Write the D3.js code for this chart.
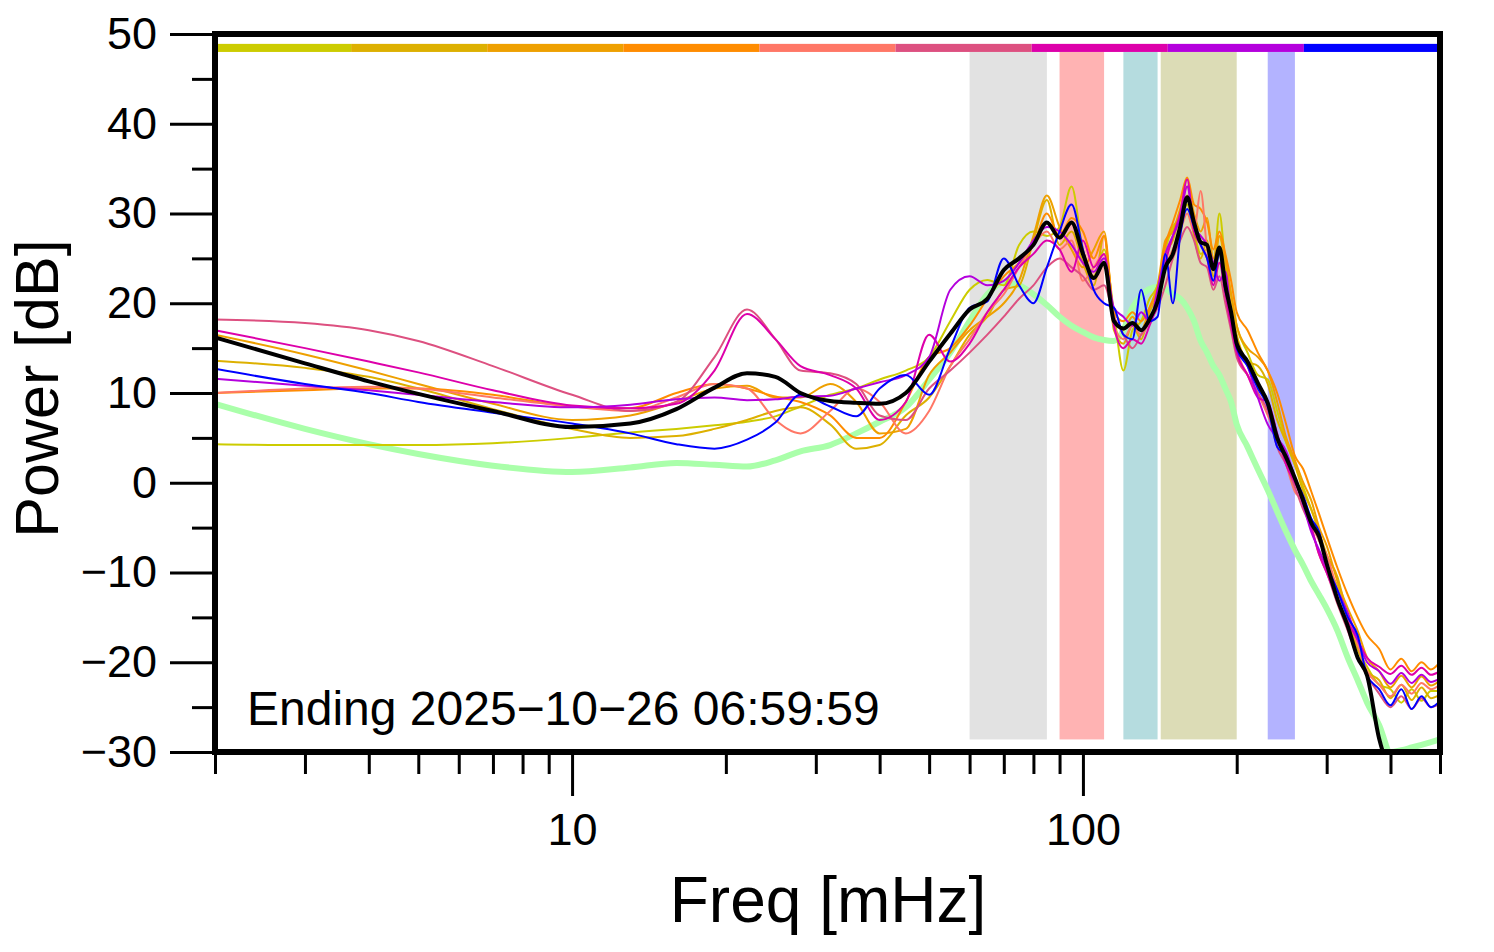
<!DOCTYPE html>
<html>
<head>
<meta charset="utf-8">
<script src="https://cdn.jsdelivr.net/npm/d3@7"></script>
<style>
  body { margin: 0; background: #fff; }
  text { font-family: "Liberation Sans", Arial, sans-serif; fill: #000; }
</style>
</head>
<body>
<div id="vis"></div>
<script>
// frequencies (mHz) shared by every spectrum
var freqs = [2, 3, 4, 5, 7, 10, 13, 16, 19, 22, 25, 28, 32, 36, 40, 45, 50, 55, 60, 65, 70, 75, 80, 85, 90, 95,
  100, 105, 110, 115, 120, 125, 130, 135, 140, 145, 150, 155, 160, 165, 170, 175, 180, 185, 190, 195, 200,
  210, 220, 230, 240, 250, 260, 270, 280, 290, 300, 315, 330, 345, 360, 380, 400, 420, 440, 460, 480, 500];

// power in dB, one array per daily spectrum
var yellowPower = [4.3, 4.2, 4.2, 4.2, 4.4, 5.0, 5.6, 6.0, 6.4, 6.8, 7.4, 8.5, 9.8, 10.5, 11.5, 12.5, 14.0, 18.0, 21.5, 22.6, 22.0, 26.5, 28.0, 27.5, 28.5, 33.0,
  26.0, 23.0, 26.0, 19.0, 12.5, 17.0, 18.0, 20.5, 22.0, 26.0, 28.5, 29.5, 31.0, 28.0, 25.5, 26.0, 24.0, 30.0, 24.5, 21.0, 17.5,
  14.5, 12.0, 11.5, 8.0, 4.5, 2.0, -0.5, -3.0, -5.5, -9.0, -11.5, -15.0, -18.5, -20.5, -22.5, -23.0, -24.5, -23.0, -24.3, -23.2, -23.2];
var goldPower = [13.6, 12.8, 11.8, 10.5, 8.2, 6.0, 5.0, 5.2, 6.0, 7.0, 8.0, 8.4, 6.5, 3.8, 4.2, 7.5, 9.5, 13.0, 16.5, 18.5, 21.5, 22.0, 27.0, 31.5, 26.5, 28.0,
  24.5, 22.0, 27.5, 17.0, 15.5, 17.5, 16.0, 19.0, 21.0, 25.5, 27.0, 30.0, 32.0, 27.5, 25.0, 27.0, 23.0, 27.5, 24.0, 19.5, 16.5,
  13.5, 13.0, 11.0, 7.0, 4.5, 2.0, -1.0, -3.0, -5.5, -8.0, -10.5, -15.0, -18.5, -21.0, -22.0, -24.0, -22.5, -24.2, -22.8, -24.0, -23.6];
var orangePower = [16.5, 14.3, 12.5, 11.0, 8.8, 7.0, 7.5, 9.0, 10.5, 10.8, 9.5, 9.5, 11.0, 9.0, 5.5, 6.0, 12.0, 14.5, 17.0, 18.5, 20.0, 22.5, 27.5, 32.0, 28.5, 26.0,
  24.0, 26.0, 28.0, 18.5, 17.0, 18.5, 17.0, 19.5, 22.0, 27.0, 28.0, 30.5, 33.0, 30.0, 28.0, 29.5, 25.0, 27.5, 25.0, 21.0, 17.5,
  15.0, 14.0, 12.5, 9.0, 5.0, 2.5, 0.0, -2.0, -5.0, -7.0, -11.0, -14.0, -16.5, -19.5, -21.0, -22.8, -21.5, -22.8, -21.6, -22.6, -22.0];
var darkOrangePower = [10.0, 10.3, 10.5, 10.5, 9.8, 8.5, 8.3, 10.0, 11.0, 10.5, 9.6, 9.0, 7.5, 5.0, 5.0, 9.0, 14.0, 15.0, 17.5, 20.5, 23.0, 24.5, 26.5, 30.0, 27.5, 29.5,
  28.0, 25.0, 27.5, 19.0, 18.0, 19.0, 18.0, 19.5, 21.5, 26.5, 29.0, 31.5, 34.0, 31.0, 30.5, 29.0, 26.0, 28.0, 25.5, 22.5, 19.0,
  17.0, 14.5, 12.5, 10.0, 6.5, 3.0, 1.5, -1.0, -3.5, -6.0, -9.5, -12.5, -15.0, -17.0, -18.5, -20.8, -19.6, -21.0, -20.0, -20.8, -20.0];
var salmonPower = [10.0, 10.5, 10.7, 10.5, 9.5, 8.5, 8.0, 9.5, 11.0, 10.5, 7.0, 5.5, 8.0, 10.5, 9.0, 5.5, 8.0, 13.0, 16.0, 19.0, 21.0, 24.0, 26.5, 28.0, 26.0, 27.0,
  22.5, 24.0, 25.5, 17.5, 16.0, 17.5, 16.5, 18.0, 20.0, 24.0, 26.0, 28.0, 30.0, 28.0, 32.5, 26.0, 22.5, 24.5, 22.0, 18.5, 15.0,
  12.0, 10.0, 7.5, 5.0, 2.0, -1.0, -2.0, -4.5, -6.5, -8.0, -12.0, -15.0, -18.0, -21.0, -22.5, -23.8, -22.5, -23.5, -22.3, -23.0, -22.5];
var rosePower = [18.2, 17.8, 17.0, 15.8, 13.0, 9.8, 8.0, 9.0, 14.0, 19.3, 16.0, 12.5, 12.2, 11.0, 7.5, 7.0, 10.5, 12.5, 14.5, 16.5, 18.5, 20.5, 22.0, 24.0, 25.0, 24.0,
  23.0, 21.5, 22.0, 18.5, 16.5, 15.0, 16.5, 18.0, 19.5, 22.0, 25.0, 27.0, 28.5, 27.0, 24.5, 24.0, 21.5, 23.0, 20.0, 17.0, 14.0,
  12.0, 10.0, 8.0, 4.0, 2.0, -0.5, -3.0, -5.0, -8.0, -10.0, -13.5, -16.5, -19.5, -21.5, -23.5, -25.0, -23.8, -25.2, -24.0, -25.0, -24.6];
var magentaPower = [17.0, 15.0, 13.5, 12.3, 10.3, 8.6, 8.3, 8.8, 12.5, 18.8, 16.0, 13.0, 12.0, 10.5, 7.0, 9.0, 16.5, 13.5, 15.5, 19.0, 21.5, 24.0, 25.5, 27.0, 26.0, 23.5,
  27.0, 24.0, 25.5, 17.5, 15.0, 16.0, 15.5, 17.5, 20.0, 24.5, 27.5, 30.0, 33.8, 28.0, 26.5, 25.0, 22.0, 24.5, 21.0, 17.5, 14.5,
  12.0, 9.5, 9.0, 5.5, 2.0, 0.0, -2.0, -5.0, -8.0, -10.0, -13.0, -15.5, -17.5, -19.5, -20.5, -21.3, -20.4, -21.4, -20.6, -21.4, -21.0];
var purplePower = [11.6, 10.8, 10.3, 9.8, 9.0, 8.4, 8.7, 9.3, 9.5, 9.2, 9.3, 9.6, 9.7, 10.5, 11.2, 12.0, 14.0, 21.5, 23.0, 22.0, 22.5, 24.5, 27.0, 28.5, 28.0, 26.5,
  24.5, 23.5, 25.0, 19.5, 18.5, 17.5, 19.0, 18.0, 21.5, 25.5, 27.5, 29.5, 33.0, 28.5, 27.5, 26.5, 24.5, 22.5, 23.5, 18.5, 15.5,
  13.0, 9.5, 6.5, 5.0, 3.5, 0.5, -2.5, -5.5, -7.5, -9.5, -12.0, -14.5, -17.5, -20.0, -21.0, -22.4, -21.2, -22.3, -21.4, -22.2, -21.8];
var bluePower = [12.7, 11.0, 10.0, 9.0, 7.8, 6.6, 5.5, 4.3, 3.8, 4.8, 6.7, 9.8, 8.5, 7.4, 10.5, 12.0, 9.8, 15.0, 19.5, 20.2, 25.0, 22.0, 20.0, 24.0, 28.0, 31.0,
  26.0, 21.5, 20.0, 19.5, 16.5, 16.0, 21.5, 18.0, 18.5, 25.5, 20.0, 27.5, 30.5, 28.5, 26.5, 25.0, 22.5, 25.5, 21.5, 19.0, 15.0,
  13.0, 10.5, 8.5, 4.0, 3.0, 0.5, -1.5, -4.0, -5.5, -9.0, -12.0, -15.0, -17.0, -21.5, -23.0, -24.8, -23.0, -25.2, -23.8, -25.0, -24.3];
var meanPower = [16.2, 13.3, 11.3, 9.9, 8.0, 6.2, 6.6, 8.2, 10.6, 12.2, 11.8, 10.0, 9.1, 8.9, 8.8, 10.0, 13.5, 16.6, 19.3, 20.5, 23.7, 25.0, 26.5, 29.0, 27.3, 29.0,
  25.5, 22.8, 24.5, 18.0, 17.2, 17.8, 17.0, 18.2, 20.2, 24.0, 25.5, 28.5, 31.8, 29.0, 26.8, 26.5, 23.8, 26.2, 22.0, 19.0, 15.5,
  13.5, 11.1, 8.9, 5.0, 2.8, 0.5, -2.0, -4.5, -6.0, -9.0, -13.0, -16.0, -19.5, -21.5, -28.5, -32.0, -33.0, -33.0, -33.0, -33.0, -33.0];
var noisePower = [8.8, 6.0, 4.3, 3.2, 1.9, 1.2, 1.7, 2.2, 2.0, 1.8, 2.5, 3.5, 4.2, 5.5, 6.8, 8.4, 11.5, 14.5, 18.0, 21.0, 22.3, 22.0, 21.0, 19.8, 18.5, 17.5,
  16.8, 16.2, 15.9, 15.8, 17.0, 19.5, 20.8, 21.6, 21.8, 21.6, 21.0, 20.5, 19.5, 18.0, 15.8, 14.5, 13.0, 12.0, 10.5, 9.0, 6.5,
  4.0, 1.5, -0.8, -3.2, -5.5, -7.5, -9.2, -11.0, -12.5, -14.0, -16.5, -19.5, -22.0, -24.5, -27.0, -30.0, -29.8, -29.5, -29.2, -28.9, -28.6];

var dayColors = ["#cccc00", "#ddb000", "#eea000", "#ff8c00", "#ff7766", "#dd5080", "#dd00aa", "#b400dd", "#0000ff"];

// shaded frequency bands (mHz)
var bandStarts = [60, 90, 120, 142, 230];
var bandEnds = [85, 110, 140, 200, 260];
var bandColors = ["#e2e2e2", "#ffb3b3", "#b5dcdf", "#dcdcb6", "#b3b3ff"];

var yMajorTicks = [-30, -20, -10, 0, 10, 20, 30, 40, 50];
var yMinorTicks = [-25, -15, -5, 5, 15, 25, 35, 45];
var xMajorTicks = [10, 100];
var xMinorTicks = [2, 3, 4, 5, 6, 7, 8, 9, 20, 30, 40, 50, 60, 70, 80, 90, 200, 300, 400, 500];

var stampText = "Ending 2025\u221210\u221226 06:59:59";

var width = 1494, height = 952;
var margin = { left: 215, right: 54, top: 34, bottom: 200 };
var drawWidth = width - margin.left - margin.right;
var drawHeight = height - margin.top - margin.bottom;

var svg = d3.select("#vis").append("svg")
  .attr("width", width)
  .attr("height", height);

var g = svg.append("g")
  .attr("transform", "translate(" + margin.left + "," + margin.top + ")");

var xScale = d3.scaleLog().domain([2, 500]).range([0, drawWidth]);
var yScale = d3.scaleLinear().domain([-30, 50]).range([drawHeight, 0]);

svg.append("defs").append("clipPath").attr("id", "plotClip")
  .append("rect")
  .attr("x", 0).attr("y", 0)
  .attr("width", drawWidth).attr("height", drawHeight);

// bands
var bands = bandStarts.map(function(d, i) { return { lo: d, hi: bandEnds[i], color: bandColors[i] }; });
g.selectAll("rect.band").data(bands).enter().append("rect")
  .attr("class", "band")
  .attr("x", function(d) { return xScale(d.lo); })
  .attr("width", function(d) { return xScale(d.hi) - xScale(d.lo); })
  .attr("y", yScale(48))
  .attr("height", yScale(-28.6) - yScale(48))
  .attr("fill", function(d) { return d.color; });

// colour key strip along the top
var segW = drawWidth / dayColors.length;
g.selectAll("rect.key").data(dayColors).enter().append("rect")
  .attr("class", "key")
  .attr("x", function(d, i) { return i * segW; })
  .attr("width", segW)
  .attr("y", yScale(48.9))
  .attr("height", yScale(48) - yScale(48.9))
  .attr("fill", function(d) { return d; });

var lineOf = function(vals) {
  return d3.line()
    .x(function(d, i) { return xScale(freqs[i]); })
    .y(function(d) { return yScale(d); })
    .curve(d3.curveMonotoneX)(vals);
};

var lines = g.append("g").attr("clip-path", "url(#plotClip)");

// noise floor
lines.append("path")
  .attr("d", lineOf(noisePower))
  .attr("fill", "none")
  .attr("stroke", "#aaffaa")
  .attr("stroke-width", 6);

var daySeries = [yellowPower, goldPower, orangePower, darkOrangePower, salmonPower, rosePower, magentaPower, purplePower, bluePower];
lines.selectAll("path.day").data(daySeries).enter().append("path")
  .attr("class", "day")
  .attr("d", function(d) { return lineOf(d); })
  .attr("fill", "none")
  .attr("stroke", function(d, i) { return dayColors[i]; })
  .attr("stroke-width", 2);

lines.append("path")
  .attr("d", lineOf(meanPower))
  .attr("fill", "none")
  .attr("stroke", "#000")
  .attr("stroke-width", 4);

// frame
g.append("rect")
  .attr("x", 0).attr("y", 0)
  .attr("width", drawWidth).attr("height", drawHeight)
  .attr("fill", "none")
  .attr("stroke", "#000")
  .attr("stroke-width", 6);

// axes
var styleAxis = function(sel, fontSize) {
  sel.select(".domain").remove();
  sel.selectAll(".tick line").attr("stroke", "#000").attr("stroke-width", 3);
  sel.selectAll("text").attr("font-size", fontSize).attr("fill", "#000")
    .attr("font-family", "'Liberation Sans', Arial, sans-serif");
};

var yMajor = g.append("g").call(d3.axisLeft(yScale).tickValues(yMajorTicks).tickSize(45).tickPadding(13)
  .tickFormat(function(d) { return d < 0 ? "\u2212" + Math.abs(d) : d; }));
styleAxis(yMajor, 45);
var yMinor = g.append("g").call(d3.axisLeft(yScale).tickValues(yMinorTicks).tickSize(23).tickFormat(""));
styleAxis(yMinor, 45);

var xMajor = g.append("g").attr("transform", "translate(0," + drawHeight + ")")
  .call(d3.axisBottom(xScale).tickValues(xMajorTicks).tickSize(44).tickPadding(17).tickFormat(d3.format("d")));
styleAxis(xMajor, 45);
var xMinor = g.append("g").attr("transform", "translate(0," + drawHeight + ")")
  .call(d3.axisBottom(xScale).tickValues(xMinorTicks).tickSize(22).tickFormat(""));
styleAxis(xMinor, 45);

// titles
svg.append("text")
  .attr("x", 828)
  .attr("y", 922)
  .attr("text-anchor", "middle")
  .attr("font-size", 64)
  .text("Freq [mHz]");

svg.append("text")
  .attr("transform", "translate(58," + (margin.top + yScale(10.5)) + ") rotate(-90)")
  .attr("text-anchor", "middle")
  .attr("font-size", 61)
  .text("Power [dB]");

g.append("text")
  .attr("x", 32)
  .attr("y", yScale(-27))
  .attr("font-size", 48)
  .text(stampText);
</script>
</body>
</html>
